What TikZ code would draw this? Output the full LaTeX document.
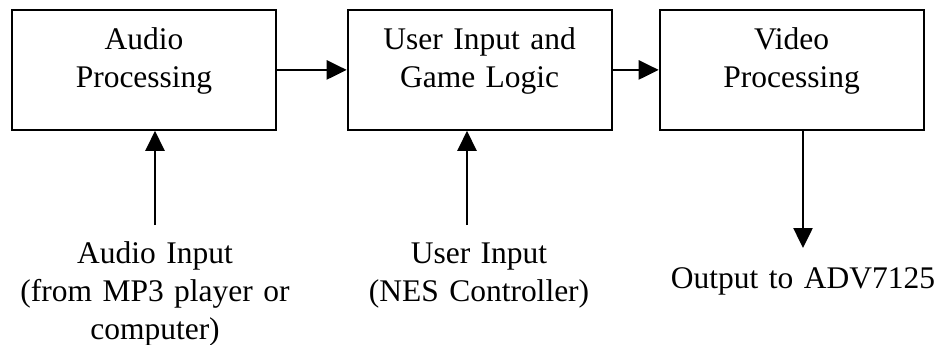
\documentclass[tikz,border=0pt]{standalone}
\usepackage{fontspec}
\setmainfont{Liberation Serif}
\usepackage{tikz}
\usetikzlibrary{arrows.meta,positioning}

\begin{document}
\begin{tikzpicture}[
  x=1cm,y=1cm,
  font=\fontsize{22.4}{27}\selectfont,
  block/.style={draw, line width=1.3pt, anchor=north, align=center, text width=6.6cm, inner sep=0pt, text height=1.0cm, text depth=2.0cm},
  src/.style={anchor=north, align=center, text width=8cm, inner sep=0pt, text height=0.95cm},
  arr/.style={-{Triangle[length=0.5cm,width=0.48cm]}, line width=1.3pt}
]
\useasboundingbox (0,0) rectangle (23.45,-8.6);
\node[block] (audio) at (3.6,-0.225) {Audio\\Processing};
\node[block] (logic) at (11.99,-0.225) {User Input and\\Game Logic};
\node[block] (video) at (19.79,-0.225) {Video\\Processing};

\node[src] (audioin) at (3.875,-5.625) {Audio Input\\(from MP3 player or\\computer)};
\node[src] (userin) at (11.975,-5.625) {User Input\\(NES Controller)};
\node[src, text height=1.0cm] (out) at (20.075,-6.2) {Output to ADV7125};

\draw[arr] (audio) -- (logic);
\draw[arr] (logic) -- (video);
\draw[arr] (audioin.north) -- (audioin.north |- audio.south);
\draw[arr] ([xshift=-0.3cm]userin.north) -- ([xshift=-0.3cm]userin.north |- logic.south);
\draw[arr] (out.north |- video.south) -- (out.north);
\end{tikzpicture}
\end{document}
